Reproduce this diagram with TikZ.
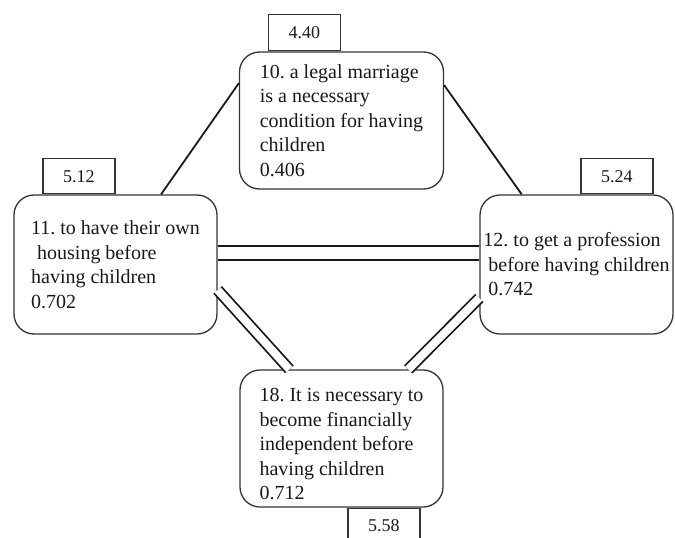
\documentclass[tikz,border=0pt]{standalone}
\usepackage{fontspec}
\setmainfont{Liberation Serif}
\frenchspacing
\tikzset{
  fm/.style={font=\fontsize{20}{24.5}\selectfont, text=black!90},
  fmbox/.style={
    fm, draw=black!80, fill=white, line width=1.3pt, rounded corners=20pt,
    align=left, inner sep=0pt
  },
  fmval/.style={
    font=\fontsize{18}{20}\selectfont, draw=black!80, fill=white, line width=1.2pt,
    minimum width=72pt, minimum height=36pt, inner sep=0pt
  },
  fmline/.style={line width=1.8pt, draw=black!90},
  fmdbl/.style={fmline, double=white, double distance=12pt},
}

\begin{document}
\begin{tikzpicture}[x=1pt, y=-1pt, fm]
    \useasboundingbox (0,0) rectangle (675,538);

    \node[fmbox, minimum width=204pt, minimum height=137pt] (q10) at (341.5,120.5)
      {10. a legal marriage\\is a necessary\\condition for having\\children\\0.406};
    \node[fmbox, minimum width=203pt, minimum height=139pt] (q11) at (115.5,264.5)
      {11. to have their own\\\hspace*{0.3em}housing before\\having children\\0.702};
    \node[fmbox, minimum width=193pt, minimum height=139pt] (q12) at (576.5,264.5)
      {12. to get a profession\\\hspace*{0.25em}before having children\\\hspace*{0.25em}0.742};
    % text sits a little low in this one
    \node[fmbox, minimum width=203pt, minimum height=137pt] (q18) at (341.5,438.5)
      {\rule{0pt}{25pt}18. It is necessary to\\become financially\\independent before\\having children\\0.712};

    \node[fmval, anchor=south west] (v10) at ([xshift=29pt]q10.north west) {4.40};
    \node[fmval, anchor=south west, minimum height=35pt] (v11) at ([xshift=29pt]q11.north west) {5.12};
    \node[fmval, anchor=south west, minimum height=35pt] (v12) at ([xshift=101pt]q12.north west) {5.24};
    \node[fmval, anchor=north west, minimum height=35pt] (v18) at ([xshift=108pt]q18.south west) {5.58};

    \draw[fmline] (q11.57) -- (q10.160);
    \draw[fmline] (q10.19) -- (q12.128);
    \draw[fmdbl] ([yshift=11.5pt]q11.east) -- ([yshift=11.5pt]q12.west);
    \draw[fmdbl, double distance=8pt] (q11.346) -- (q18.127);
    \draw[fmdbl, double distance=8pt] (q12.199) -- (q18.46);
\end{tikzpicture}
\end{document}
